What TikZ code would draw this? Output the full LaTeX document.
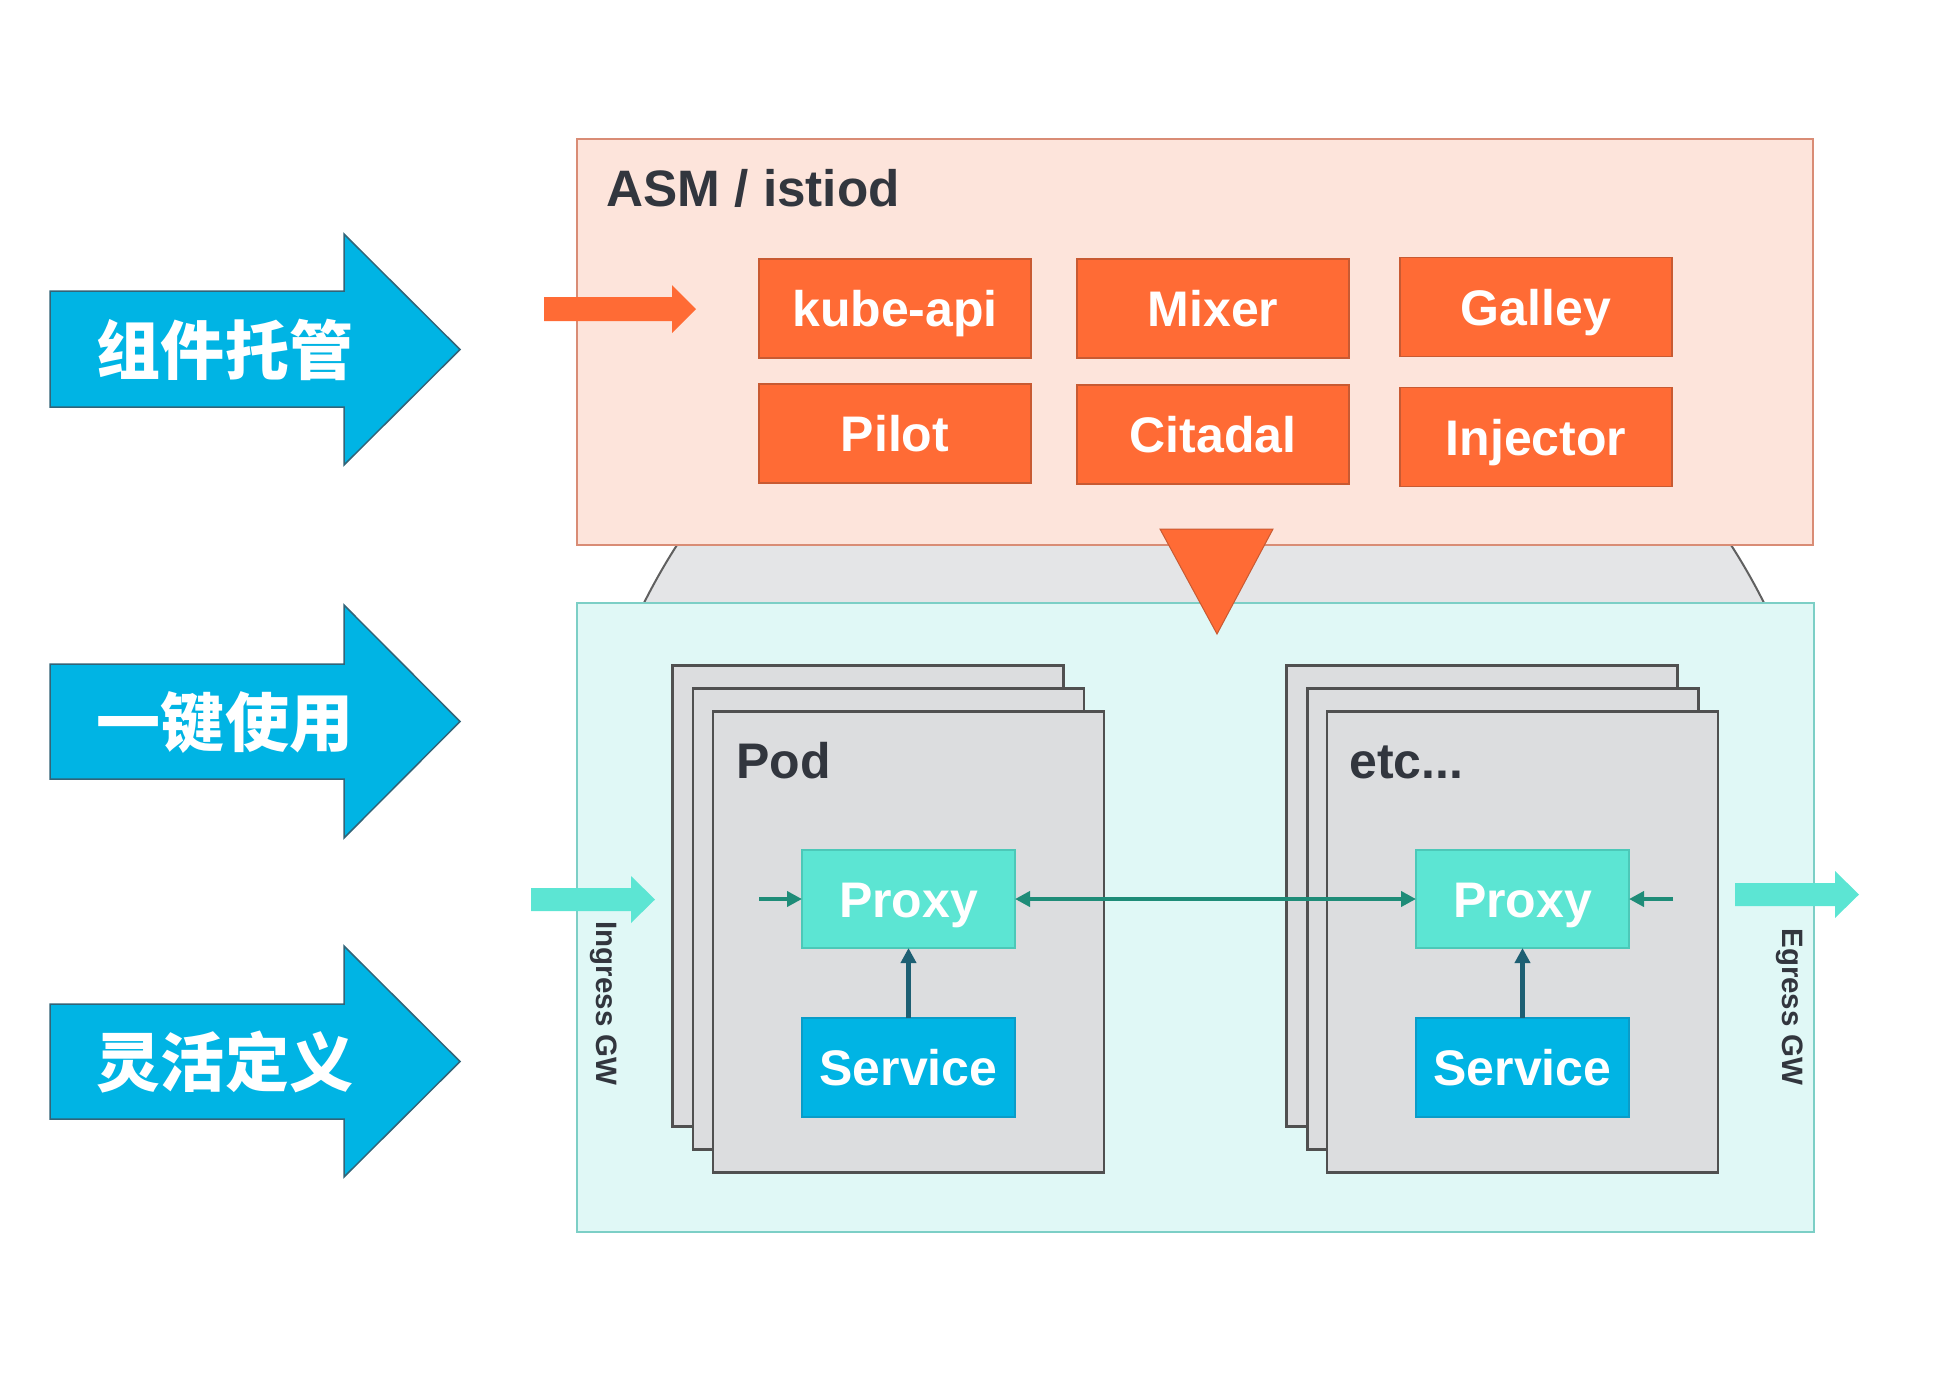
\documentclass[tikz,border=0pt]{standalone}
\usepackage{fontspec}
\setmainfont{Liberation Sans}
\newfontfamily\cjk{Noto Sans CJK SC}
\usetikzlibrary{arrows.meta}
\definecolor{skyblue}{RGB}{0,180,228}
\definecolor{arrline}{RGB}{50,100,120}
\definecolor{orangec}{RGB}{255,107,53}
\definecolor{obord}{RGB}{200,90,50}
\definecolor{asmfill}{RGB}{253,228,219}
\definecolor{asmbord}{RGB}{217,140,117}
\definecolor{meshfill}{RGB}{224,248,246}
\definecolor{meshbord}{RGB}{124,207,198}
\definecolor{podfill}{RGB}{220,221,223}
\definecolor{podbord}{RGB}{80,80,80}
\definecolor{proxyc}{RGB}{92,229,211}
\definecolor{proxybord}{RGB}{76,200,184}
\definecolor{servbord}{RGB}{10,156,200}
\definecolor{darktxt}{RGB}{50,54,62}
\definecolor{globefill}{RGB}{228,229,231}
\definecolor{globeline}{RGB}{96,96,96}
\definecolor{tealline}{RGB}{30,140,120}
\definecolor{darkteal}{RGB}{29,95,115}
\begin{document}
\begin{tikzpicture}[x=0.4pt,y=-0.4pt,
  bluearr/.style={fill=skyblue,draw=arrline,line width=0.6pt,line join=miter},
  cntext/.style={font={\cjk\bfseries\fontsize{25.6pt}{30pt}\selectfont},text=white,inner sep=0pt},
  boxfont/.style={text=white,font={\bfseries\fontsize{20pt}{24pt}\selectfont},text height=14.4pt,text depth=0pt},
  obox/.style={draw=obord,fill=orangec,line width=0.6pt,minimum width=108.8pt,minimum height=39.6pt,inner sep=0pt,outer sep=0pt,boxfont},
  podbox/.style={draw=podbord,fill=podfill,line width=0.9pt,minimum width=156.4pt,minimum height=184.4pt,inner sep=0pt,outer sep=0pt},
  proxybox/.style={draw=proxybord,fill=proxyc,line width=0.6pt,minimum width=85.2pt,minimum height=39.2pt,inner sep=0pt,outer sep=0pt,boxfont},
  servbox/.style={draw=servbord,fill=skyblue,line width=0.6pt,minimum width=85.2pt,minimum height=39.6pt,inner sep=0pt,outer sep=0pt,boxfont},
  podlabel/.style={text=darktxt,inner sep=0pt,font={\bfseries\fontsize{20pt}{24pt}\selectfont},text height=14.4pt,text depth=0pt},
  gwtext/.style={text=darktxt,inner sep=0pt,font={\bfseries\fontsize{11.8pt}{14pt}\selectfont}},
  tealarr/.style={draw=tealline,line width=1.5pt,-{Triangle[length=6pt,width=6pt]}},
  tealdbl/.style={draw=tealline,line width=1.5pt,{Triangle[length=6pt,width=6pt]}-{Triangle[length=6pt,width=6pt]}},
  darkarr/.style={draw=darkteal,line width=1.8pt,-{Triangle[length=6pt,width=6pt]}},
  gwarr/.style={fill=proxyc,draw=none}
]
\useasboundingbox (0,0) rectangle (1940,1388);

% left blue arrows
\draw[bluearr] (50,291) -- (344,291) -- (344,234) -- (460,349.5) -- (344,465) -- (344,407) -- (50,407) -- cycle;
\node[cntext] (t1) at (225,350) {组件托管};
\draw[bluearr] (50,664) -- (344,664) -- (344,605) -- (460,721.5) -- (344,838) -- (344,779) -- (50,779) -- cycle;
\node[cntext] (t2) at (225,722) {一键使用};
\draw[bluearr] (50,1004) -- (344,1004) -- (344,946) -- (460,1061.5) -- (344,1177) -- (344,1119) -- (50,1119) -- cycle;
\node[cntext] (t3) at (225,1062) {灵活定义};

% globe behind, visible only between the two panels
\begin{scope}
  \clip (577,545) rectangle (1814,603);
  \draw[fill=globefill,draw=globeline,line width=0.8pt] (1204,883) circle[radius=250.4pt];
\end{scope}

% ASM panel
\node[draw=asmbord,fill=asmfill,line width=0.9pt,minimum width=494.4pt,minimum height=162.4pt,inner sep=0pt,outer sep=0pt] (asm) at (1195,342) {};
\node[anchor=base west,text=darktxt,inner sep=0pt,font={\bfseries\fontsize{20.5pt}{24pt}\selectfont}] (asmtitle) at (606,206) {ASM / istiod};

\node[obox] (kube) at (895,308.5) {kube-api};
\node[obox] (mixer) at (1213,308.5) {Mixer};
\node[obox] (galley) at (1536,307) {Galley};
\node[obox] (pilot) at (895,433.5) {Pilot};
\node[obox] (citadal) at (1213,434.5) {Citadal};
\node[obox] (injector) at (1536,437) {Injector};

\fill[orangec] (544,297) -- (672,297) -- (672,285) -- (696,309) -- (672,333) -- (672,321) -- (544,321) -- cycle;

% mesh panel
\node[draw=meshbord,fill=meshfill,line width=0.9pt,minimum width=494.8pt,minimum height=251.6pt,inner sep=0pt,outer sep=0pt] (mesh) at (1195.5,917.5) {};

% triangle from control plane to data plane
\draw[fill=orangec,draw=obord,line width=0.4pt,line join=miter] (1160,529) -- (1273,529) -- (1217,634) -- cycle;

% pod stacks
\node[podbox] (p1b) at (868,896) {};
\node[podbox] (p1m) at (888.5,919) {};
\node[podbox] (p1f) at (908.5,942) {};
\node[podbox] (p2b) at (1482,896) {};
\node[podbox] (p2m) at (1503,919) {};
\node[podbox] (p2f) at (1522.5,942) {};

\node[podlabel,anchor=west] (podl) at (736,760) {Pod};
\node[podlabel,anchor=west] (etcl) at (1349,760) {etc...};

\node[proxybox] (proxyL) at (908.5,899) {Proxy};
\node[servbox] (servL) at (908.5,1067.5) {Service};
\node[proxybox] (proxyR) at (1522.5,899) {Proxy};
\node[servbox] (servR) at (1522.5,1067.5) {Service};

\coordinate (inL) at (759,899);
\coordinate (inR) at (1673,899);
\draw[tealarr] (inL) -- (proxyL.west);
\draw[tealarr] (inR) -- (proxyR.east);
\draw[tealdbl] (proxyL.east) -- (proxyR.west);
\draw[darkarr] (servL.north) -- (proxyL.south);
\draw[darkarr] (servR.north) -- (proxyR.south);

% gateways
\fill[gwarr] (531,888) -- (631,888) -- (631,876) -- (655,899.5) -- (631,923) -- (631,911) -- (531,911) -- cycle;
\fill[gwarr] (1735,883) -- (1835,883) -- (1835,871) -- (1859,894.5) -- (1835,918) -- (1835,906) -- (1735,906) -- cycle;
\node[gwtext,rotate=-90] (ingress) at (603.5,1003.5) {Ingress GW};
\node[gwtext,rotate=-90] (egress) at (1790,1007) {Egress GW};
\end{tikzpicture}
\end{document}
